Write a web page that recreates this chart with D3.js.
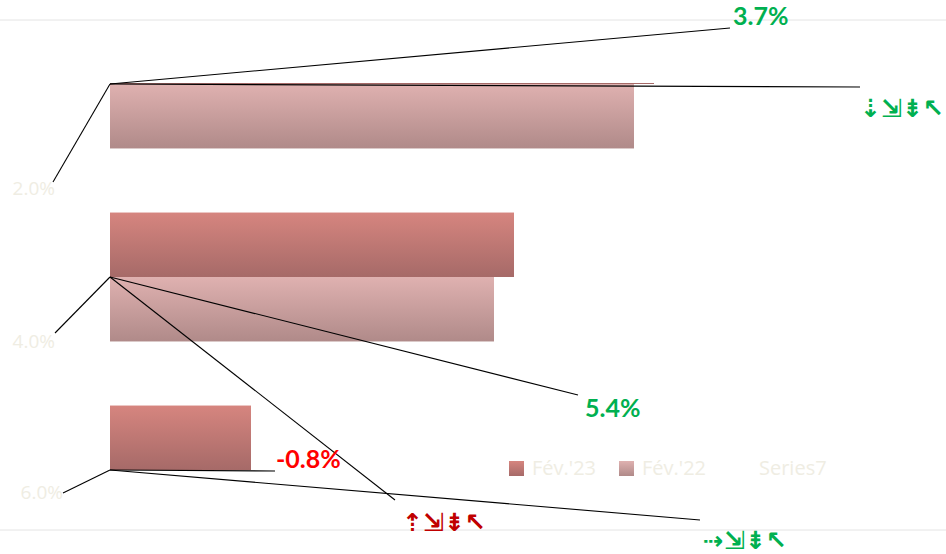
<!DOCTYPE html>
<html><head><meta charset="utf-8">
<script src="https://cdn.jsdelivr.net/npm/d3@7"></script>
<style>html,body{margin:0;padding:0;background:#fff;}svg{display:block;}</style>
</head><body>
<script>
const categories = ["Cat 1", "Cat 2", "Cat 3"];
const seriesNames = ["Fév.'23", "Fév.'22"];
const values23 = [54.4, 40.4, 14.1];
const values22 = [52.4, 38.4, null];
const changeLabels = ["3.7%", "5.4%", "-0.8%"];
const changeColors = ["#00b050", "#00b050", "#ff0000"];
const arrowLabels = ["\u21E3\u21F2\u21DF\u2196", "\u21E1\u21F2\u21DF\u2196", "\u21E2\u21F2\u21DF\u2196"];
const arrowColors = ["#00b050", "#c00000", "#00b050"];
const axisLabels = ["2.0%", "4.0%", "6.0%"];
const legendItems = ["Fév.'23", "Fév.'22", "Series7"];

// annotation layout (offsets from each category anchor)
const layout = [
  {ch:[620,-56], chT:[3,-3], ar:[750,3], arT:[0,30], ax:[-57,98], axT:[-55,111]},
  {ch:[468,118], chT:[7,22], ar:[285,223], arT:[7,31], ax:[-55,56], axT:[-55,71]},
  {ch:[165,1], chT:[1,-3], ar:[590,50], arT:[3,29], ax:[-47,23], axT:[-47,29]}
];

const W = 946, H = 554;
const svg = d3.select("body").append("svg").attr("width", W).attr("height", H);
const defs = svg.append("defs");
function grad(id, c1, c2) {
  const g = defs.append("linearGradient").attr("id", id).attr("x1",0).attr("y1",0).attr("x2",0).attr("y2",1);
  g.append("stop").attr("offset","0%").attr("stop-color", c1);
  g.append("stop").attr("offset","100%").attr("stop-color", c2);
}
grad("g23", "#d6857f", "#a66a68");
grad("g22", "#dfb1b0", "#b08a89");
defs.append("clipPath").attr("id","plotclip").append("rect").attr("x",0).attr("y",83).attr("width",W).attr("height",460);

// gridlines
[20, 530].forEach(yv => svg.append("line").attr("x1",0).attr("x2",W).attr("y1",yv).attr("y2",yv)
  .attr("stroke","#e4e4e4").attr("stroke-width",1));

const x = d3.scaleLinear().domain([0, 100]).range([110, 1110]);
const y = d3.scaleBand().domain(categories).range([-12.5, 566.5]).paddingInner(0.332).paddingOuter(0.166);
const ys = d3.scaleBand().domain(seriesNames).range([0, y.bandwidth()]);

const bars = svg.append("g").attr("clip-path","url(#plotclip)");
const rows = categories.map((c,i) => ({c, v23: values23[i], v22: values22[i]}));
rows.forEach(r => {
  [[seriesNames[0], r.v23, "url(#g23)"], [seriesNames[1], r.v22, "url(#g22)"]].forEach(([s, v, f]) => {
    if (v == null) return;
    bars.append("rect").attr("x", x(0)).attr("y", y(r.c) + ys(s))
      .attr("width", x(v) - x(0)).attr("height", ys.bandwidth()).attr("fill", f);
  });
});

// annotations
const ann = svg.append("g");
categories.forEach((c, i) => {
  const ax0 = x(0), ay0 = y(c) + y.bandwidth()/2;
  const L = layout[i];
  const line = (p) => ann.append("line").attr("x1", ax0).attr("y1", ay0)
    .attr("x2", ax0 + p[0]).attr("y2", ay0 + p[1]).attr("stroke", "#000").attr("stroke-width", 1.1);
  line(L.ch); line(L.ar); line(L.ax);
  ann.append("text").attr("x", ax0 + L.ch[0] + L.chT[0]).attr("y", ay0 + L.ch[1] + L.chT[1])
    .attr("font-family", "Lato, 'Open Sans', sans-serif").attr("font-weight", "bold").attr("font-size", 25)
    .attr("fill", changeColors[i]).text(changeLabels[i]);
  ann.append("text").attr("x", ax0 + L.ar[0] + L.arT[0]).attr("y", ay0 + L.ar[1] + L.arT[1])
    .attr("font-family", "'DejaVu Sans', sans-serif").attr("font-weight", "bold").attr("font-size", 25)
    .attr("fill", arrowColors[i]).text(arrowLabels[i]);
  ann.append("text").attr("x", ax0 + L.axT[0]).attr("y", ay0 + L.axT[1]).attr("text-anchor", "end")
    .attr("font-family", "'Open Sans', sans-serif").attr("font-size", 19)
    .attr("fill", "#efede3").text(axisLabels[i]);
});

// legend
const leg = svg.append("g").attr("transform", "translate(509,461)");
const legX = [0, 110, 227];
const legFill = ["url(#g23)", "url(#g22)", "none"];
legendItems.forEach((t, i) => {
  if (legFill[i] !== "none") leg.append("rect").attr("x", legX[i]).attr("y", 0).attr("width", 15).attr("height", 15).attr("fill", legFill[i]);
  leg.append("text").attr("x", legX[i] + 23).attr("y", 14).attr("font-family", "'Open Sans', sans-serif")
    .attr("font-size", 20).attr("fill", "#efede3").text(t);
});
</script>
</body></html>
